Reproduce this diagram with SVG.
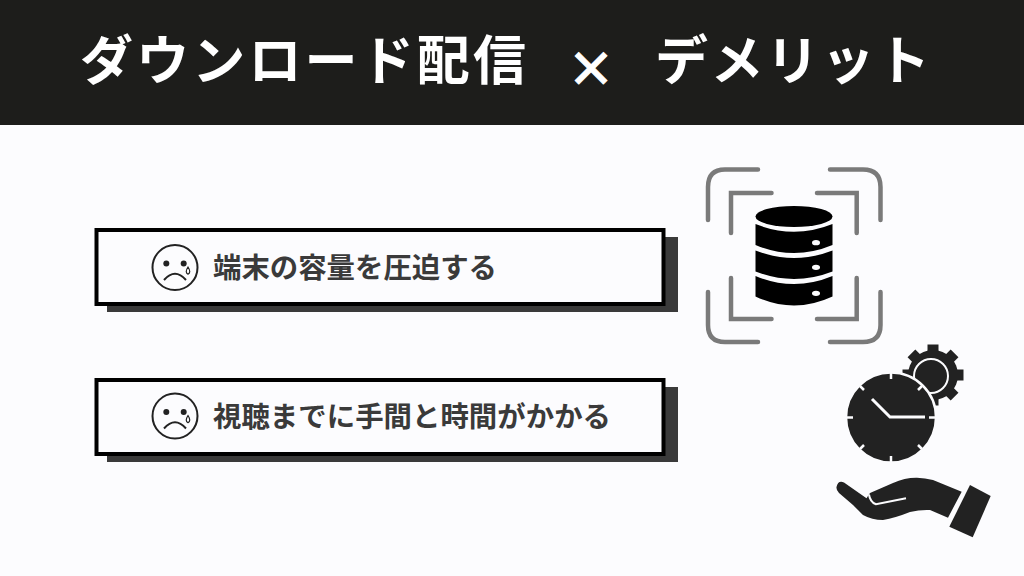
<svg xmlns="http://www.w3.org/2000/svg" width="1024" height="576" viewBox="0 0 1024 576">
<defs>
<style>
.title{font-family:"Noto Sans CJK JP","Noto Sans",sans-serif;font-weight:700;font-size:53px;fill:#fff}
.lbl{font-family:"Noto Sans CJK JP","Noto Sans",sans-serif;font-weight:700;font-size:28.4px;fill:#3a3a3a}
.box{fill:#fcfcfe;stroke:#000;stroke-width:4}
.shadow{fill:#3a3a3a}
.gray{fill:none;stroke:#7a7a7a;stroke-width:4.5;stroke-linecap:round}
.face{fill:none;stroke:#222;stroke-width:2}
.tear{fill:none;stroke:#222;stroke-width:1.2}
.dk{fill:#222}
</style>
<g id="sad"><circle cx="0" cy="0" r="22.5" class="face"/><circle cx="-8.7" cy="-4" r="3" class="dk"/><circle cx="8.7" cy="-4" r="3" class="dk"/><path d="M-11 12.5Q0 0 11 12.5" class="face"/><path d="M13 -0.5Q9.5 5 13 6.7Q16.5 5 13 -0.5Z" class="tear"/></g>
</defs>
<rect width="1024" height="576" fill="#fcfcfe"/>
<rect id="header" width="1024" height="125" fill="#1d1d1b"/>
<text class="title" x="80" y="80" textLength="446">ダウンロード配信</text>
<text class="title" x="567" y="86" style="font-size:48px;stroke:#fff;stroke-width:1">×</text>
<text class="title" x="655" y="80" textLength="275">デメリット</text>
<g id="node1">
<rect class="shadow" x="107" y="237" width="571" height="75"/>
<rect class="box" x="96.5" y="230" width="567" height="74"/>
<use href="#sad" x="175" y="267.5"/>
<text class="lbl" x="213" y="278" textLength="284">端末の容量を圧迫する</text>
</g>
<g id="node2">
<rect class="shadow" x="107" y="387" width="571" height="75"/>
<rect class="box" x="96.5" y="380" width="567" height="74"/>
<use href="#sad" x="175" y="416"/>
<text class="lbl" x="213" y="427" textLength="398">視聴までに手間と時間がかかる</text>
</g>
<g id="db-icon">
<path class="gray" d="M708 220V187Q708 169.500 725 169.500H758M830 169.500H863Q880.500 169.500 880.500 187V220M880.500 292V325Q880.500 342 863 342H830M758 342H725Q708 342 708 325V292"/>
<path class="gray" d="M731 233V193H771.500M817 193H856.700V233M856.700 278V319H817M771.500 319H731V278"/>
<ellipse cx="794" cy="216.500" rx="38.500" ry="10.500" fill="#000"/>
<path d="M755.500 224Q794 239.500 832.500 224V245Q794 261 755.500 245Z" fill="#000"/>
<path d="M755.500 250.500Q794 265.500 832.500 250.500V271.500Q794 286.500 755.500 271.500Z" fill="#000"/>
<path d="M755.500 276Q794 292 832.500 276V296.500Q794 314.500 755.500 296.500Z" fill="#000"/>
<g fill="#fcfcfe"><ellipse cx="816" cy="242.700" rx="4" ry="2.600"/><ellipse cx="816" cy="267.300" rx="4" ry="2.600"/><ellipse cx="816" cy="293.300" rx="4" ry="2.600"/></g>
</g>
<g id="clock-icon">
<circle class="dk" cx="933" cy="375" r="25"/>
<g class="dk"><rect x="927.500" y="344.500" width="11" height="61"/><rect x="927.500" y="344.500" width="11" height="61" transform="rotate(45 933 375)"/><rect x="927.500" y="344.500" width="11" height="61" transform="rotate(90 933 375)"/><rect x="927.500" y="344.500" width="11" height="61" transform="rotate(135 933 375)"/></g>
<circle cx="931" cy="376" r="17" fill="#222" stroke="#fcfcfe" stroke-width="2"/>
<circle cx="891" cy="417.500" r="45" fill="#222" stroke="#fcfcfe" stroke-width="2.500"/>
<path d="M891 373v6M891 456v6M847 417.500h6M929 417.500h6M860 386l4 4M918 445l4 4M922 386l-4 4M864 445l-4 4" stroke="#fcfcfe" stroke-width="2.500"/>
<path d="M872 399L890 417H925" fill="none" stroke="#fcfcfe" stroke-width="3"/>
</g>
<g id="hand-icon">
<path class="dk" d="M836.500 487Q838 480 844 482.500L866.500 498.300L870 493L893 483Q905 477.500 917 477.700Q925 478 933 480L961.700 491.700L948 517.700L930 510Q920 509.500 910 512Q895 518 883 520Q872 520 863 515L853 505L839 493Q836 490 836.500 487Z"/>
<path d="M869 494.500Q870 502 876 504.300L906 498.300" fill="none" stroke="#fcfcfe" stroke-width="2"/>
<path class="dk" d="M970 485L990.700 496L972.700 537.300L949.300 526.700Z"/>
</g>
</svg>
